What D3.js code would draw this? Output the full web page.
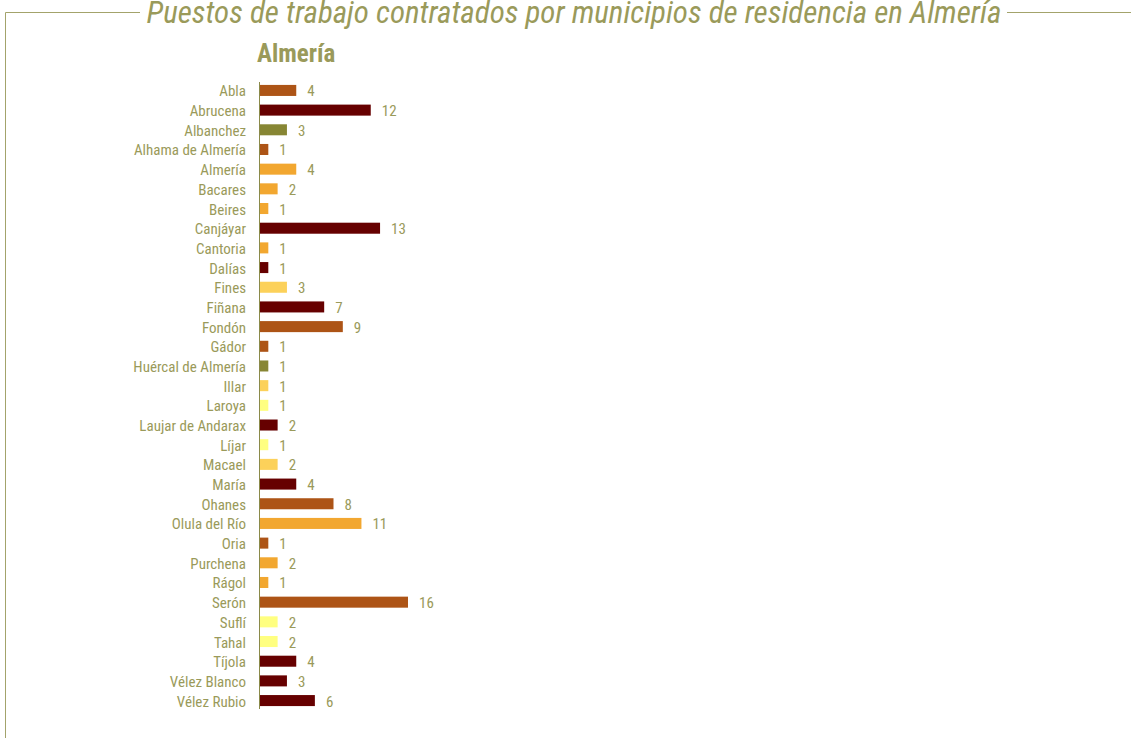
<!DOCTYPE html>
<html>
<head>
<meta charset="utf-8">
<script src="https://cdn.jsdelivr.net/npm/d3@7"></script>
<style>
body{margin:0;background:#fff;}
text{font-family:"Liberation Sans Narrow","Arial Narrow","Roboto Condensed",sans-serif;}
</style>
</head>
<body>
<div id="chart-area"></div>
<script>
var municipios=["Abla","Abrucena","Albanchez","Alhama de Almería","Almería","Bacares","Beires","Canjáyar","Cantoria","Dalías","Fines","Fiñana","Fondón","Gádor","Huércal de Almería","Illar","Laroya","Laujar de Andarax","Líjar","Macael","María","Ohanes","Olula del Río","Oria","Purchena","Rágol","Serón","Suflí","Tahal","Tíjola","Vélez Blanco","Vélez Rubio"];
var puestos=[4,12,3,1,4,2,1,13,1,1,3,7,9,1,1,1,1,2,1,2,4,8,11,1,2,1,16,2,2,4,3,6];
var grupo=["b","a","c","b","d","d","d","a","d","a","e","a","b","b","c","e","f","a","f","e","a","b","d","b","d","d","b","f","f","a","a","a"];
var grupos=["a","b","c","d","e","f"];
var colores=["#660000","#ad5416","#878634","#f2a730","#fcd15a","#ffff80"];

var W=1131,H=738;
var txt="#9a9a5a";
var svg=d3.select("#chart-area").append("svg")
    .attr("width",W)
    .attr("height",H);

// marco y titulo
var frame="#a3a36b";
svg.append("path")
    .attr("d","M5.5,738 V12.5 H140")
    .attr("fill","none")
    .attr("stroke",frame);
svg.append("path")
    .attr("d","M1007,12.5 H1131")
    .attr("fill","none")
    .attr("stroke",frame);
svg.append("text")
    .attr("x",574)
    .attr("y",23)
    .attr("text-anchor","middle")
    .attr("font-size","31px")
    .attr("font-style","italic")
    .attr("fill",txt)
    .text("Puestos de trabajo contratados por municipios de residencia en Almería");
svg.append("text")
    .attr("x",257)
    .attr("y",62)
    .attr("font-size","25px")
    .attr("font-weight","bold")
    .attr("fill",txt)
    .text("Almería");

var margin={left:259,top:80};
var g=svg.append("g")
    .attr("transform","translate("+margin.left+","+margin.top+")");

var x=d3.scaleLinear()
    .domain([0,16])
    .range([0,149]);
var y=d3.scaleBand()
    .domain(municipios)
    .range([0,631])
    .paddingInner(0.44)
    .paddingOuter(0.25);
var color=d3.scaleOrdinal()
    .domain(grupos)
    .range(colores);

var data=municipios.map((m,i)=>{return {m:m,v:puestos[i],g:grupo[i]};});

g.selectAll("rect")
    .data(data)
    .enter()
    .append("rect")
    .attr("x",0)
    .attr("y",d=>y(d.m))
    .attr("width",d=>x(d.v))
    .attr("height",y.bandwidth())
    .attr("fill",d=>color(d.g));

g.selectAll(".val")
    .data(data)
    .enter()
    .append("text")
    .attr("class","val")
    .attr("x",d=>x(d.v)+11)
    .attr("y",d=>y(d.m)+y.bandwidth()/2)
    .attr("dy","0.4em")
    .attr("font-size","15px")
    .attr("fill",txt)
    .text(d=>d.v);

var leftAxis=d3.axisLeft(y)
    .tickSize(0)
    .tickPadding(13);
var ax=g.append("g")
    .call(leftAxis);
ax.select(".domain")
    .attr("stroke","#8a8a4a")
    .attr("d","M0.5,2V629");
ax.selectAll("text")
    .attr("font-size","15px")
    .attr("dy","0.4em")
    .attr("font-family","\"Liberation Sans Narrow\",\"Arial Narrow\",\"Roboto Condensed\",sans-serif")
    .attr("fill",txt);
</script>
</body>
</html>
